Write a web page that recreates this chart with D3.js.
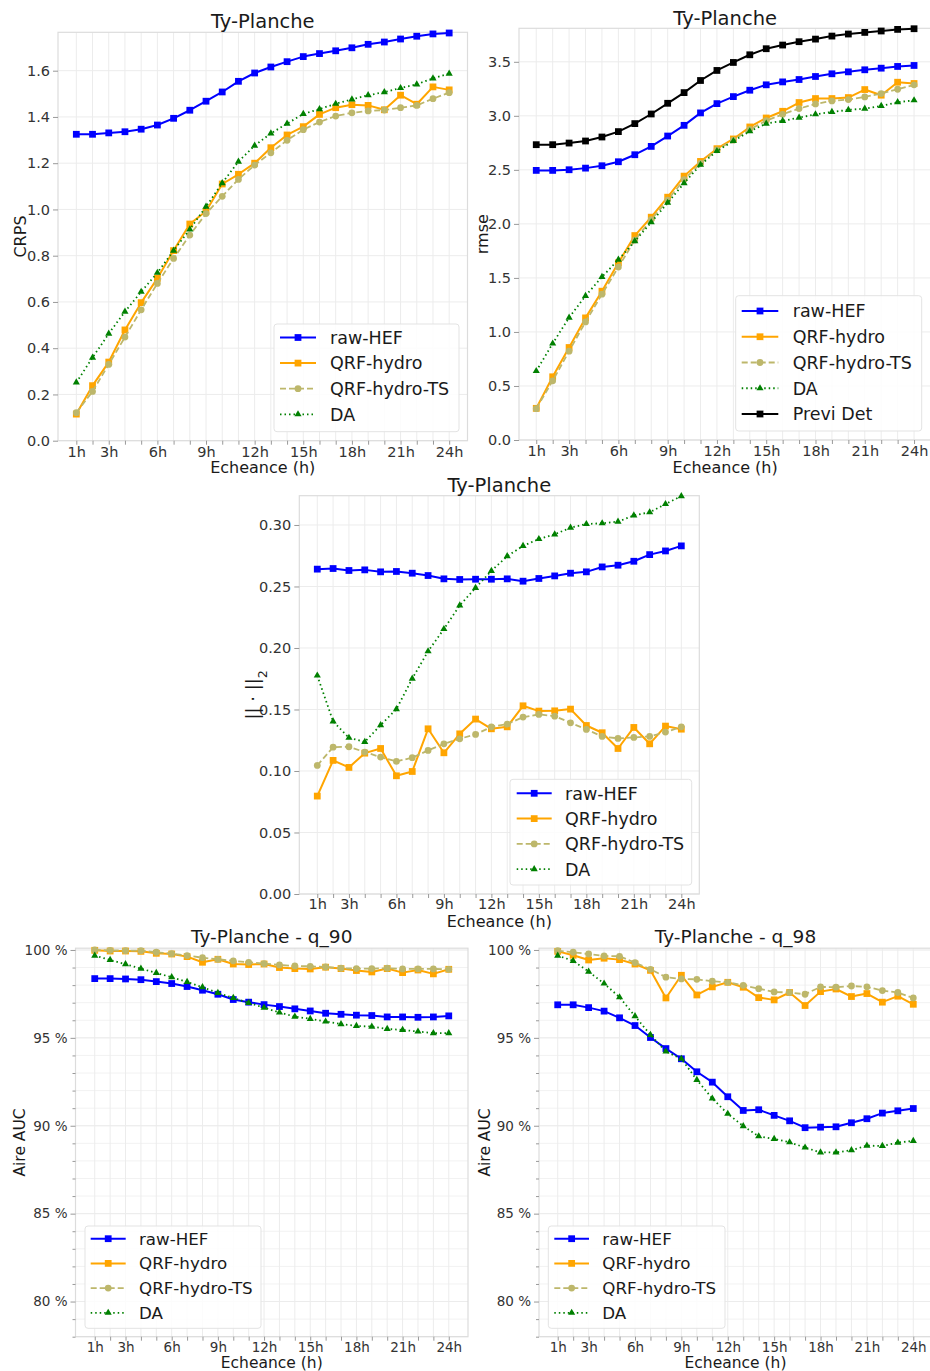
<!DOCTYPE html>
<html><head><meta charset="utf-8">
<script src="https://cdn.jsdelivr.net/npm/d3@7"></script>
<style>body{margin:0;background:#fff}svg{display:block}text{font-family:"DejaVu Sans",sans-serif}</style>
</head><body><svg id="c" width="930" height="1371"></svg>
<script>
// ---------- DATA ----------
const hours = [1,2,3,4,5,6,7,8,9,10,11,12,13,14,15,16,17,18,19,20,21,22,23,24];
const xTickValues = [1,3,6,9,12,15,18,21,24];
const xTickLabels = ["1h","3h","6h","9h","12h","15h","18h","21h","24h"];
const seriesNames = ["raw-HEF","QRF-hydro","QRF-hydro-TS","DA","Previ Det"];

const crpsRawHEF = [1.325,1.325,1.331,1.336,1.347,1.365,1.394,1.429,1.468,1.508,1.554,1.590,1.616,1.639,1.661,1.674,1.686,1.699,1.714,1.724,1.737,1.749,1.759,1.763];
const crpsQRF    = [0.115,0.238,0.340,0.479,0.597,0.702,0.822,0.937,0.992,1.110,1.152,1.200,1.267,1.322,1.358,1.411,1.440,1.453,1.450,1.431,1.494,1.455,1.530,1.517];
const crpsQRFTS  = [0.121,0.213,0.330,0.448,0.566,0.680,0.788,0.889,0.982,1.057,1.130,1.192,1.245,1.299,1.345,1.378,1.404,1.418,1.426,1.430,1.440,1.450,1.479,1.505];
const crpsDA     = [0.252,0.359,0.463,0.558,0.644,0.726,0.822,0.914,1.012,1.114,1.207,1.276,1.329,1.371,1.413,1.434,1.457,1.476,1.494,1.507,1.525,1.541,1.567,1.587];

const rmseRawHEF = [2.495,2.495,2.501,2.516,2.538,2.575,2.640,2.717,2.813,2.912,3.027,3.113,3.178,3.237,3.287,3.314,3.336,3.364,3.389,3.407,3.426,3.441,3.457,3.466];
const rmseQRF    = [0.293,0.585,0.856,1.130,1.377,1.640,1.892,2.062,2.247,2.442,2.578,2.696,2.786,2.897,2.980,3.042,3.123,3.160,3.160,3.169,3.243,3.191,3.311,3.299];
const rmseQRFTS  = [0.290,0.548,0.822,1.093,1.349,1.600,1.850,2.040,2.220,2.410,2.560,2.685,2.775,2.875,2.955,3.014,3.067,3.110,3.138,3.150,3.175,3.206,3.246,3.287];
const rmseDA     = [0.638,0.893,1.133,1.334,1.509,1.669,1.840,2.015,2.195,2.377,2.547,2.674,2.767,2.857,2.928,2.953,2.983,3.014,3.036,3.055,3.067,3.092,3.126,3.144];
const rmsePrevi  = [2.733,2.733,2.748,2.767,2.804,2.854,2.928,3.017,3.116,3.215,3.327,3.420,3.494,3.565,3.621,3.655,3.686,3.710,3.738,3.757,3.772,3.785,3.800,3.806];

const normRawHEF = [0.2641,0.2646,0.2630,0.2635,0.2619,0.2622,0.2608,0.2589,0.2562,0.2557,0.2559,0.2559,0.2562,0.2543,0.2565,0.2586,0.2608,0.2619,0.2659,0.2673,0.2705,0.2759,0.2789,0.2830];
const normQRF    = [0.0796,0.1086,0.1029,0.1145,0.1183,0.0961,0.0996,0.1343,0.1148,0.1302,0.1422,0.1343,0.1359,0.1530,0.1487,0.1489,0.1503,0.1370,0.1311,0.1183,0.1354,0.1221,0.1365,0.1340];
const normQRFTS  = [0.1045,0.1194,0.1197,0.1154,0.1113,0.1078,0.1108,0.1167,0.1221,0.1262,0.1297,0.1359,0.1381,0.1438,0.1460,0.1446,0.1392,0.1338,0.1281,0.1265,0.1273,0.1281,0.1316,0.1359];
const normDA     = [0.1776,0.1403,0.1270,0.1237,0.1373,0.1503,0.1751,0.1973,0.2154,0.2346,0.2489,0.2627,0.2746,0.2830,0.2886,0.2924,0.2978,0.3008,0.3014,0.3027,0.3078,0.3103,0.3170,0.3235];

const q90RawHEF = [98.37,98.37,98.35,98.31,98.20,98.09,97.92,97.71,97.48,97.18,97.03,96.89,96.78,96.65,96.53,96.40,96.34,96.29,96.27,96.19,96.19,96.17,96.19,96.25];
const q90QRF    = [99.98,99.94,99.94,99.92,99.81,99.77,99.62,99.30,99.47,99.20,99.17,99.20,99.00,98.94,98.92,99.02,98.94,98.83,98.75,98.94,98.71,98.86,98.64,98.90];
const q90QRFTS  = [100.0,99.98,99.96,99.96,99.87,99.79,99.68,99.56,99.47,99.38,99.30,99.22,99.15,99.09,99.07,99.03,98.96,98.94,98.94,98.96,98.92,98.92,98.92,98.90];
const q90DA     = [99.68,99.43,99.19,98.94,98.69,98.45,98.18,97.88,97.56,97.27,96.99,96.72,96.44,96.21,96.08,95.93,95.78,95.68,95.64,95.51,95.45,95.36,95.27,95.27];

const q98RawHEF = [96.88,96.88,96.72,96.52,96.14,95.70,95.02,94.39,93.81,93.07,92.48,91.65,90.87,90.91,90.59,90.28,89.89,89.92,89.94,90.17,90.40,90.72,90.85,90.98];
const q98QRF    = [99.92,99.70,99.43,99.53,99.45,99.20,98.84,97.27,98.56,97.44,97.90,98.16,97.88,97.29,97.16,97.58,96.84,97.63,97.78,97.35,97.52,97.03,97.37,96.91];
const q98QRFTS  = [99.96,99.87,99.77,99.66,99.64,99.28,98.90,98.45,98.35,98.33,98.22,98.16,97.99,97.80,97.61,97.58,97.48,97.90,97.88,97.95,97.90,97.69,97.58,97.27];
const q98DA     = [99.68,99.38,98.77,98.09,97.31,96.23,95.17,94.22,93.81,92.61,91.55,90.68,89.98,89.40,89.25,89.06,88.76,88.48,88.48,88.61,88.87,88.85,89.04,89.14];

// ---------- STYLES ----------
const styles = {
  "raw-HEF":      {color:"#0000ff", dash:null,    sym:d3.symbolSquare,   size:46, lw:2},
  "QRF-hydro":    {color:"#ffa500", dash:null,    sym:d3.symbolSquare,   size:46, lw:2},
  "QRF-hydro-TS": {color:"#bdb76b", dash:"6,3",   sym:d3.symbolCircle,   size:36, lw:1.8},
  "DA":           {color:"#008000", dash:"1.5,3", sym:d3.symbolTriangle, size:22, lw:1.8},
  "Previ Det":    {color:"#000000", dash:null,    sym:d3.symbolSquare,   size:46, lw:2}
};

const svg = d3.select("#c");

function panel(p){
  const g = svg.append("g");
  const x = d3.scaleLinear().domain([1-p.xm, 24+p.xm]).range([p.left, p.right]);
  const y = d3.scaleLinear().domain(p.yDomain).range([p.bottom, p.top]);
  g.append("rect").attr("x",p.left).attr("y",p.top).attr("width",p.right-p.left).attr("height",p.bottom-p.top).attr("fill","#fff");
  if(p.yMinor){
    g.append("g").selectAll("line").data(p.yMinor).join("line")
      .attr("x1",p.left).attr("x2",p.right).attr("y1",d=>y(d)).attr("y2",d=>y(d))
      .attr("stroke","#f2f2f2").attr("stroke-width",1);
  }
  g.append("g").selectAll("line").data(hours).join("line")
    .attr("x1",d=>x(d)).attr("x2",d=>x(d)).attr("y1",p.top).attr("y2",p.bottom)
    .attr("stroke","#ececec").attr("stroke-width",1);
  g.append("g").selectAll("line").data(p.yTicks).join("line")
    .attr("x1",p.left).attr("x2",p.right).attr("y1",d=>y(d)).attr("y2",d=>y(d))
    .attr("stroke","#ececec").attr("stroke-width",1);
  g.append("rect").attr("x",p.left).attr("y",p.top).attr("width",p.right-p.left).attr("height",p.bottom-p.top)
    .attr("fill","none").attr("stroke","#dcdcdc").attr("stroke-width",1.2);

  const labelMap = {};
  xTickValues.forEach((v,i)=>labelMap[v]=xTickLabels[i]);
  const xa = g.append("g").attr("transform",`translate(0,${p.bottom})`)
    .call(d3.axisBottom(x).tickValues(hours).tickSize(4).tickPadding(p.xPad).tickFormat(d=>labelMap[d]||""));
  xa.select(".domain").remove();
  xa.selectAll("line").attr("stroke","#999");
  xa.selectAll("text").attr("fill","#333").style("font-size",p.fTick+"px").style("font-family","DejaVu Sans");

  const ya = g.append("g").attr("transform",`translate(${p.left},0)`)
    .call(d3.axisLeft(y).tickValues(p.yTicks).tickSize(5).tickPadding(3).tickFormat(p.yFmt));
  ya.select(".domain").remove();
  ya.selectAll("line").attr("stroke","#999");
  ya.selectAll("text").attr("fill","#333").style("font-size",p.fTick+"px").style("font-family","DejaVu Sans");
  if(p.yMinor){
    const ym = g.append("g").attr("transform",`translate(${p.left},0)`)
      .call(d3.axisLeft(y).tickValues(p.yMinor.filter(v=>p.yTicks.indexOf(v)<0)).tickSize(3).tickFormat(""));
    ym.select(".domain").remove();
    ym.selectAll("line").attr("stroke","#999");
  }

  g.append("text").attr("x",(p.left+p.right)/2).attr("y",p.titleY).attr("text-anchor","middle")
    .attr("fill","#1a1a1a").style("font-size",p.fTitle+"px").text(p.title);
  g.append("text").attr("x",(p.left+p.right)/2).attr("y",p.xLabelY).attr("text-anchor","middle")
    .attr("fill","#1a1a1a").style("font-size",p.fLabel+"px").text("Echeance (h)");
  const yl = g.append("text").attr("transform",`translate(${p.yLabelX},${(p.top+p.bottom)/2}) rotate(-90)`)
    .attr("text-anchor","middle").attr("fill","#1a1a1a").style("font-size",(p.fYLabel||p.fLabel)+"px");
  if(p.yLabelParts){
    p.yLabelParts.forEach(t=>{
      const ts = yl.append("tspan").text(t.text);
      if(t.sub) ts.attr("baseline-shift","sub").style("font-size",((p.fYLabel||p.fLabel)*0.7)+"px");
    });
  } else yl.text(p.yLabel);

  const line = d3.line().x((d,i)=>x(hours[i])).y(d=>y(d));
  p.series.forEach(s=>{
    const st = styles[s.name];
    g.append("path").datum(s.values).attr("d",line).attr("fill","none")
      .attr("stroke",st.color).attr("stroke-width",st.lw)
      .attr("stroke-dasharray",st.dash).attr("stroke-linejoin","round");
    g.append("g").selectAll("path").data(s.values).join("path")
      .attr("transform",(d,i)=>`translate(${x(hours[i])},${y(d)})`)
      .attr("d",d3.symbol().type(st.sym).size(st.size)).attr("fill",st.color);
  });

  const L = p.legend;
  g.append("rect").attr("x",L.x0).attr("y",L.y0).attr("width",L.x1-L.x0).attr("height",L.y1-L.y0)
    .attr("rx",3).attr("fill","#fff").attr("fill-opacity",0.85).attr("stroke","#e3e3e3");
  p.series.forEach((s,i)=>{
    const st = styles[s.name];
    const yy = L.row0 + i*L.step;
    g.append("line").attr("x1",L.lx0).attr("x2",L.lx1).attr("y1",yy).attr("y2",yy)
      .attr("stroke",st.color).attr("stroke-width",st.lw).attr("stroke-dasharray",st.dash);
    g.append("path").attr("transform",`translate(${(L.lx0+L.lx1)/2},${yy})`)
      .attr("d",d3.symbol().type(st.sym).size(st.size)).attr("fill",st.color);
    g.append("text").attr("x",L.tx).attr("y",yy).attr("dy","0.36em").attr("fill","#1a1a1a")
      .style("font-size",p.fLegend+"px").text(s.name);
  });
}

const pctMinor = d3.range(78,101,1);

panel({left:58,right:467.5,top:32.3,bottom:440.7,xm:1.13,yDomain:[0,1.766],
  yTicks:[0,0.2,0.4,0.6,0.8,1.0,1.2,1.4,1.6],yFmt:d3.format(".1f"),
  title:"Ty-Planche",titleY:28,xLabelY:472.5,yLabel:"CRPS",yLabelX:26,
  fTick:14.5,fTitle:19.5,fLabel:16,fLegend:17.5,xPad:2,
  series:[{name:"raw-HEF",values:crpsRawHEF},{name:"QRF-hydro",values:crpsQRF},{name:"QRF-hydro-TS",values:crpsQRFTS},{name:"DA",values:crpsDA}],
  legend:{x0:274,y0:324,x1:459,y1:431.7,row0:337.5,step:25.6,lx0:280,lx1:316,tx:330}});

panel({left:519,right:931.3,top:28.3,bottom:440,xm:1.05,yDomain:[0,3.81],
  yTicks:[0,0.5,1.0,1.5,2.0,2.5,3.0,3.5],yFmt:d3.format(".1f"),
  title:"Ty-Planche",titleY:25,xLabelY:473,yLabel:"rmse",yLabelX:488,
  fTick:14.5,fTitle:19.5,fLabel:16,fLegend:17.5,xPad:2,
  series:[{name:"raw-HEF",values:rmseRawHEF},{name:"QRF-hydro",values:rmseQRF},{name:"QRF-hydro-TS",values:rmseQRFTS},{name:"DA",values:rmseDA},{name:"Previ Det",values:rmsePrevi}],
  legend:{x0:735.7,y0:295.7,x1:921.7,y1:431,row0:311,step:25.75,lx0:741.7,lx1:778.3,tx:792.7}});

panel({left:299.3,right:699.3,top:495.7,bottom:894,xm:1.136,yDomain:[0,0.3238],
  yTicks:[0,0.05,0.10,0.15,0.20,0.25,0.30],yFmt:d3.format(".2f"),
  title:"Ty-Planche",titleY:491.5,xLabelY:927,yLabelParts:[{text:"||  ·  ||"},{text:"2",sub:true}],yLabelX:259,
  fTick:14.5,fTitle:19.5,fLabel:16,fYLabel:18,fLegend:17.5,xPad:1,
  series:[{name:"raw-HEF",values:normRawHEF},{name:"QRF-hydro",values:normQRF},{name:"QRF-hydro-TS",values:normQRFTS},{name:"DA",values:normDA}],
  legend:{x0:510,y0:779.3,x1:691.7,y1:885,row0:793.3,step:25.3,lx0:516.7,lx1:551.7,tx:565}});

panel({left:75.5,right:468,top:948.2,bottom:1336.7,xm:1.25,yDomain:[78,100.1],
  yTicks:[80,85,90,95,100],yMinor:pctMinor,yFmt:d=>d+" %",
  title:"Ty-Planche - q_90",titleY:943.3,xLabelY:1368,yLabel:"Aire AUC",yLabelX:25,
  fTick:13.5,fTitle:18.5,fLabel:15.5,fLegend:16.7,xPad:2,
  series:[{name:"raw-HEF",values:q90RawHEF},{name:"QRF-hydro",values:q90QRF},{name:"QRF-hydro-TS",values:q90QRFTS},{name:"DA",values:q90DA}],
  legend:{x0:85,y0:1226,x1:261,y1:1328.3,row0:1238.7,step:24.7,lx0:90.7,lx1:125.7,tx:139}});

panel({left:539,right:932,top:948.2,bottom:1336.7,xm:1.21,yDomain:[78,100.1],
  yTicks:[80,85,90,95,100],yMinor:pctMinor,yFmt:d=>d+" %",
  title:"Ty-Planche - q_98",titleY:943.3,xLabelY:1368,yLabel:"Aire AUC",yLabelX:490,
  fTick:13.5,fTitle:18.5,fLabel:15.5,fLegend:16.7,xPad:2,
  series:[{name:"raw-HEF",values:q98RawHEF},{name:"QRF-hydro",values:q98QRF},{name:"QRF-hydro-TS",values:q98QRFTS},{name:"DA",values:q98DA}],
  legend:{x0:548.3,y0:1226,x1:725,y1:1328.3,row0:1238.7,step:24.7,lx0:554.3,lx1:589,tx:602.3}});
</script></body></html>
